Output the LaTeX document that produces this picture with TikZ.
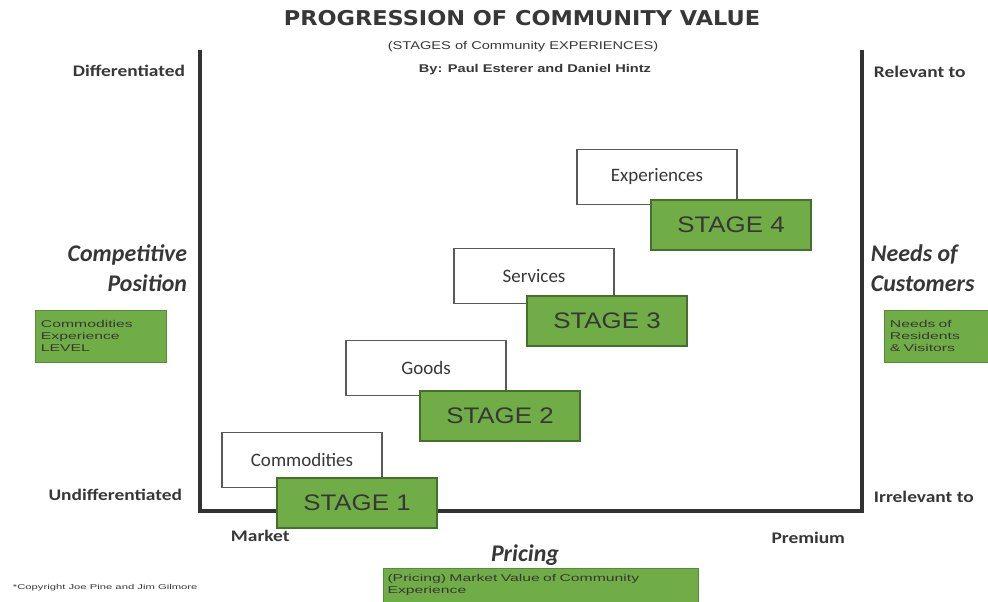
\documentclass[tikz,border=0pt]{standalone}
\usepackage{fontspec}
\setmainfont{Liberation Sans}
\newfontfamily\calibfont{Carlito}
\newfontfamily\labelfont[FakeStretch=1.2]{Carlito}
\newfontfamily\titlefont[FakeStretch=1.1]{DejaVu Sans}
\newfontfamily\widefont[FakeStretch=1.3]{Liberation Sans}
\newfontfamily\widerfont[FakeStretch=1.6]{Liberation Sans}
\newfontfamily\stagefont[FakeStretch=1.15]{Liberation Sans}
\usepackage{tikz}
\usetikzlibrary{positioning}
\definecolor{stagegreen}{RGB}{112,173,71}
\definecolor{stageedge}{RGB}{70,110,45}
\definecolor{axisgray}{RGB}{50,50,50}
\definecolor{textgray}{RGB}{55,55,55}

\begin{document}
\begin{tikzpicture}[
		x=0.025cm, y=-0.025cm,
		every node/.style={text=textgray},
		offer/.style={rectangle, draw=gray!70!black, line width=1pt, fill=white, minimum width=4cm, minimum height=1.375cm, font=\calibfont\fontsize{13.5}{15}\selectfont},
		stagebox/.style={rectangle, draw=stageedge, line width=1pt, fill=stagegreen, minimum width=4cm, minimum height=1.25cm, font=\stagefont\fontsize{16}{18}\selectfont},
		note/.style={rectangle, fill=stagegreen, draw=stagegreen!80!black, align=left, font=\widerfont\fontsize{7}{8.5}\selectfont, inner sep=4pt, anchor=north west},
		endlabel/.style={font=\labelfont\bfseries\fontsize{11.5}{13}\selectfont},
		axislabel/.style={font=\calibfont\bfseries\itshape\fontsize{17}{21}\selectfont}
	]
	\useasboundingbox (0,0) rectangle (988,602);

	% Title lines
	\node[font=\titlefont\bfseries\fontsize{14.5}{16}\selectfont] (title) at (522,18) {PROGRESSION OF COMMUNITY VALUE};
	\node[font=\widefont\fontsize{8}{9}\selectfont] (sub) at (523,47) {(STAGES of Community EXPERIENCES)};
	\node[font=\widefont\bfseries\fontsize{8}{9}\selectfont] (by) at (535,70) {By: Paul Esterer and Daniel Hintz};

	% Frame
	\draw[axisgray, line width=2.2pt] (200,50) -- (200,511) -- (862,511) -- (862,50);

	% Left side
	\node[endlabel, anchor=east] (diff) at (190,71) {Differentiated};
	\node[axislabel, anchor=east, align=right] (comp) at (192,268) {Competitive\\Position};
	\node[endlabel, anchor=east] (undiff) at (187,495) {Undifferentiated};
	\node[note, text width=3cm, minimum height=1.3cm] (level) at (35,310) {Commodities\\Experience\\LEVEL};

	% Right side
	\node[endlabel, anchor=west] (rel) at (869,72) {Relevant to};
	\node[axislabel, anchor=west, align=left] (needs) at (866,268) {Needs of\\Customers};
	\node[endlabel, anchor=west] (irrel) at (869,497) {Irrelevant to};
	\node[note, text width=2.4cm, minimum height=1.3cm] (resid) at (884,310) {Needs of\\Residents\\\& Visitors};

	% Bottom
	\node[endlabel, anchor=west] (market) at (226,536) {Market};
	\node[endlabel, anchor=east] (prem) at (850,538) {Premium};
	\node[axislabel] (pricing) at (525,555) {Pricing};
	\node[note, text width=7.65cm, minimum height=0.85cm, inner sep=3pt] (value) at (383,568) {(Pricing) Market Value of Community\\Experience};
	\node[font=\widerfont\fontsize{5}{6}\selectfont, anchor=west] (copy) at (8,588) {*Copyright Joe Pine and Jim Gilmore};

	% Offerings and stages
	\node[offer] (comm) at (302,460) {Commodities};
	\node[stagebox] (s1) at (357,503) {STAGE 1};
	\node[offer] (goods) at (426,368) {Goods};
	\node[stagebox] (s2) at (500,416) {STAGE 2};
	\node[offer] (serv) at (534,276) {Services};
	\node[stagebox] (s3) at (607,321) {STAGE 3};
	\node[offer] (exper) at (657,177) {Experiences};
	\node[stagebox] (s4) at (731,225) {STAGE 4};

\end{tikzpicture}
\end{document}
